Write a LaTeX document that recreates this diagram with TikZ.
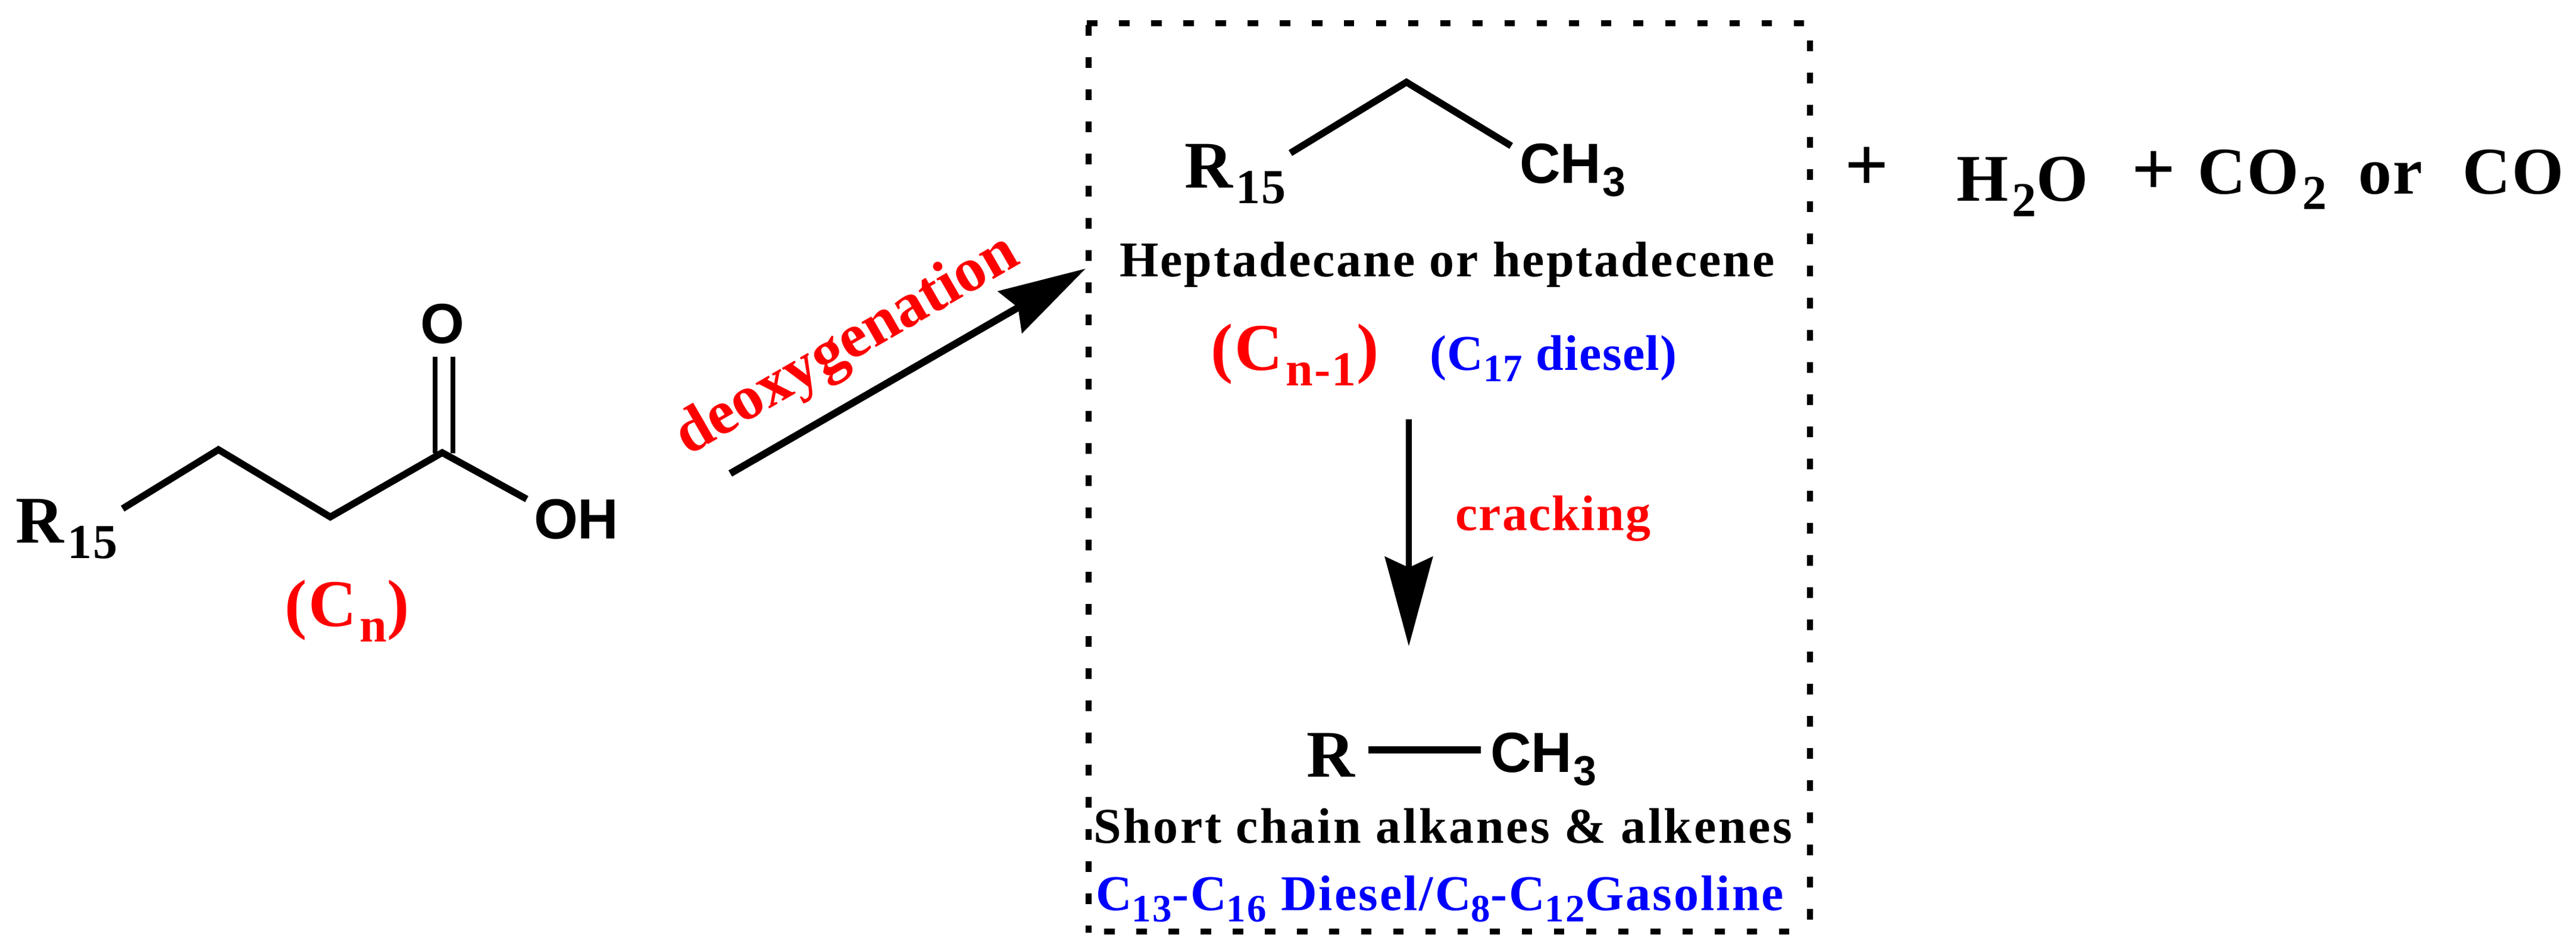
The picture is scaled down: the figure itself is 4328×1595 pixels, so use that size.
\documentclass[tikz,border=0pt]{standalone}
\usepackage{fontspec}
\setmainfont{Liberation Serif}[BoldFont={* Bold}]
\setsansfont{Liberation Sans}[BoldFont={* Bold}]
\usetikzlibrary{arrows.meta}
\definecolor{rd}{RGB}{255,0,0}
\definecolor{bl}{RGB}{0,0,255}
\newcommand{\Lsub}[1]{\kern.6pt\raisebox{-2.6pt}{\fontsize{8.2pt}{8.2pt}\selectfont #1}}
\newcommand{\Msub}[1]{\kern.2pt\raisebox{-2.2pt}{\fontsize{7pt}{7pt}\selectfont #1}}
\newcommand{\Hsub}[1]{\raisebox{-1.9pt}{\fontsize{6.5pt}{6.5pt}\selectfont #1}}
\tikzset{
  lbl/.style={inner sep=0pt,outer sep=0pt,anchor=base west},
  big/.style={lbl,font=\fontsize{11.2pt}{11.2pt}\selectfont\bfseries\addfontfeature{LetterSpace=2.5}},
  plussign/.style={lbl,font=\fontsize{13pt}{13pt}\selectfont\bfseries},
  mid/.style={lbl,font=\fontsize{8.4pt}{8.4pt}\selectfont\bfseries\addfontfeature{LetterSpace=#1}},
  atom/.style={lbl,font=\fontsize{9.5pt}{9.5pt}\selectfont\sffamily\bfseries},
  bond/.style={line width=1.15pt,line join=miter,line cap=butt},
  dbond/.style={line width=.8pt},
  rarrow/.style={line width=1.2pt,-{Stealth[length=14.6pt,width=8pt,inset=1.5pt]}},
  darrow/.style={line width=1.05pt,-{Stealth[length=15pt,width=8pt,inset=1.8pt]}},
  boxline/.style={line width=1pt,dash pattern=on 1.75pt off 3.65pt},
}
\begin{document}
\begin{tikzpicture}[x=0.1pt,y=-0.1pt]
\useasboundingbox (0,0) rectangle (4328,1595);
% box
\coordinate (tl) at (1829,42.5);
\coordinate (bl) at (1829,1566);
\coordinate (t0) at (1826,39);
\coordinate (t1) at (3040,39);
\coordinate (r0) at (3041,68.5);
\coordinate (r1) at (3041,1560);
\coordinate (b0) at (1826,1564);
\coordinate (b1) at (3040,1564);
\draw[boxline] (tl) -- (bl);
\draw[boxline] (t0) -- (t1);
\draw[boxline] (r0) -- (r1);
\draw[boxline,dash phase=2.5pt] (b0) -- (b1);
% acid
\coordinate (a1) at (206,854);
\coordinate (a2) at (367,755);
\coordinate (a3) at (555,868);
\coordinate (a4) at (743,760);
\coordinate (a5) at (885,838);
\coordinate (d1a) at (731,761);
\coordinate (d1b) at (731,599);
\coordinate (d2a) at (761,761);
\coordinate (d2b) at (761,599);
\draw[bond] (a1) -- (a2) -- (a3) -- (a4) -- (a5);
\draw[dbond] (d1a) -- (d1b);
\draw[dbond] (d2a) -- (d2b);
\node[atom,anchor=base] (oxy) at (743,577) {O};
\node[atom] (oh) at (897,905) {OH};
\node[big] (r15a) at (27,912) {R\Lsub{15}};
\node[big,text=rd] (cn) at (478,1052) {(C\Lsub{n})};
% main arrow
\coordinate (m0) at (1227,795);
\coordinate (m1) at (1824,451);
\draw[rarrow] (m0) -- (m1);
\node[inner sep=0pt,rotate=30,text=rd,font=\fontsize{10.5pt}{10.5pt}\selectfont\bfseries] (deox) at (1424,582) {deoxygenation};
% upper molecule
\coordinate (u1) at (2168,257);
\coordinate (u2) at (2363,138);
\coordinate (u3) at (2539,245);
\draw[bond] (u1) -- (u2) -- (u3);
\node[big] (r15b) at (1990,316) {R\Lsub{15}};
\node[atom] (ch3a) at (2553,308) {CH\Msub{3}};
\node[plussign] (plus1) at (3099,321) {+};
\node[big] (h2o) at (3287,338) {H\Lsub{2}O};
\node[plussign] (plus2) at (3581,328) {+};
\node[big] (co2) at (3692,326) {CO\Lsub{2}};
\node[big] (or) at (3962,326) {or};
\node[big] (co) at (4137,326) {CO};
\node[mid=3.6] (hept) at (1881,465) {Heptadecane or heptadecene};
\node[big,text=rd] (cn1) at (2034,622) {(C\Lsub{n-1})};
\node[mid=1.7,text=bl] (c17) at (2402,622) {(C\Hsub{17} diesel)};
% cracking arrow
\coordinate (c0) at (2367,704);
\coordinate (c1) at (2367,1085);
\draw[darrow] (c0) -- (c1);
\node[mid=2.7,text=rd] (crack) at (2445,891) {cracking};
% lower molecule
\node[big] (rr) at (2195,1305) {R};
\node[atom] (ch3b) at (2504,1297) {CH\Msub{3}};
\coordinate (l0) at (2299,1259);
\coordinate (l1) at (2488,1259);
\draw[bond] (l0) -- (l1);
\node[mid=4.3] (short) at (1837,1416) {Short chain alkanes \& alkenes};
\node[mid=3.6,text=bl] (blue) at (1841,1529) {C\Hsub{13}-C\Hsub{16} Diesel/C\Hsub{8}-C\Hsub{12}Gasoline};
\end{tikzpicture}
\end{document}
